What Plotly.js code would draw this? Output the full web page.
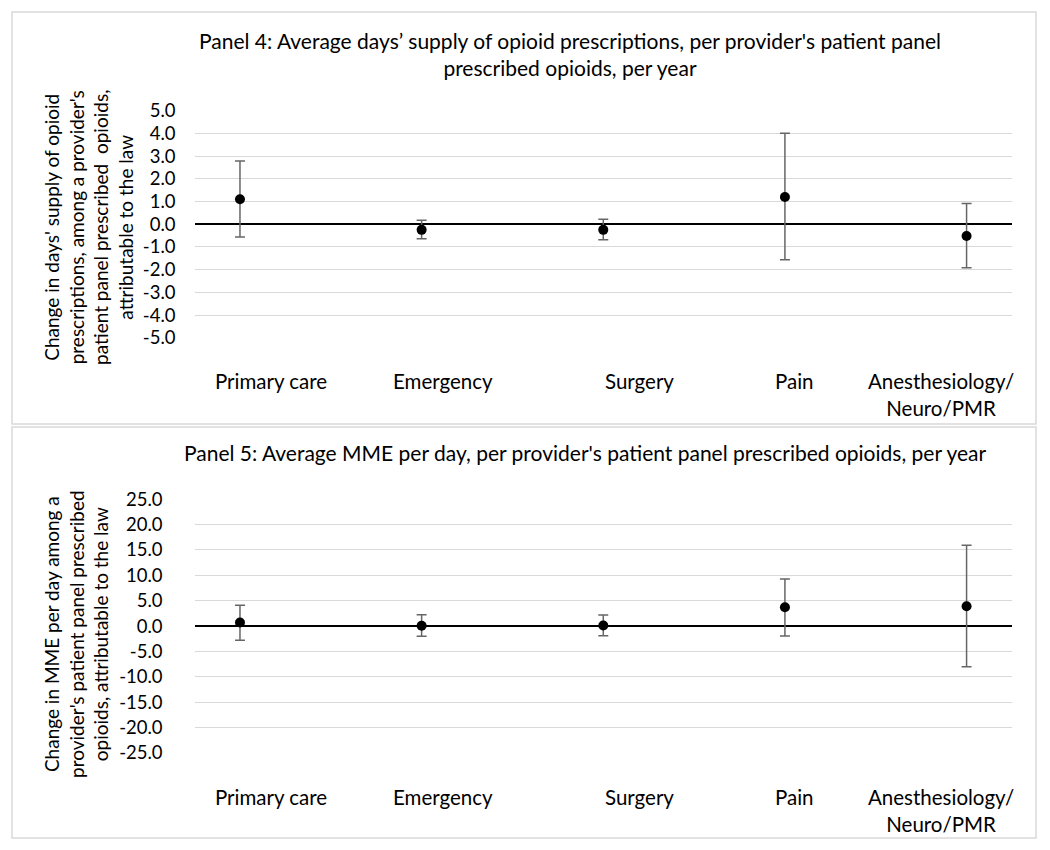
<!DOCTYPE html>
<html>
<head>
<meta charset="utf-8">
<script src="https://cdn.plot.ly/plotly-3.0.1.min.js"></script>
<style>html,body{margin:0;padding:0;background:#fff;}#chart{width:1050px;height:850px;}</style>
</head>
<body>
<div id="chart"></div>
<script>
// ---- data ----
const categories = ["Primary care", "Emergency", "Surgery", "Pain", "Anesthesiology/<br>Neuro/PMR"];
const catIndex = [1, 2, 3, 4, 5];

// Panel 4: days' supply
const p4Mean  = [1.1, -0.25, -0.25, 1.2, -0.52];
const p4Upper = [2.78, 0.17, 0.22, 4.0, 0.91];
const p4Lower = [-0.56, -0.64, -0.68, -1.56, -1.92];
const p4TickVals = [5, 4, 3, 2, 1, 0, -1, -2, -3, -4, -5];
const p4TickText = ["5.0", "4.0", "3.0", "2.0", "1.0", "0.0", "-1.0", "-2.0", "-3.0", "-4.0", "-5.0"];

// Panel 5: MME per day
const p5Mean  = [0.7, 0.05, 0.1, 3.7, 3.9];
const p5Upper = [4.1, 2.2, 2.15, 9.25, 15.9];
const p5Lower = [-2.8, -2.0, -1.9, -1.95, -8.0];
const p5TickVals = [25, 20, 15, 10, 5, 0, -5, -10, -15, -20, -25];
const p5TickText = ["25.0", "20.0", "15.0", "10.0", "5.0", "0.0", "-5.0", "-10.0", "-15.0", "-20.0", "-25.0"];

const title4 = "Panel 4: Average days’ supply of opioid prescriptions, per provider's patient panel<br>prescribed opioids, per year";
const title5 = "Panel 5: Average MME per day, per provider's patient panel prescribed opioids, per year";
const ytitle4 = "Change in days' supply of opioid<br>prescriptions, among a provider's<br>patient panel prescribed  opioids,<br>attributable to the law";
const ytitle5 = "Change in MME per day among a<br>provider's patient panel prescribed<br>opioids, attributable to the law";

// ---- layout constants (positions) ----
const labelPos = [1.17, 2.12, 3.20, 4.05, 4.86];
const FONT = "Lato, 'Open Sans', sans-serif";

function errTrace(mean, upper, lower, xa, ya) {
  return {
    type: "scatter", mode: "markers", x: catIndex, y: mean, xaxis: xa, yaxis: ya,
    marker: {color: "#000", size: 10},
    error_y: {type: "data", symmetric: false,
      array: upper.map((u, i) => u - mean[i]),
      arrayminus: lower.map((l, i) => mean[i] - l),
      color: "#666666", thickness: 1.5, width: 5},
    hoverinfo: "skip", showlegend: false, cliponaxis: false
  };
}

const data = [errTrace(p4Mean, p4Upper, p4Lower, "x", "y"), errTrace(p5Mean, p5Upper, p5Lower, "x2", "y2")];

const xCommon = {range: [0.75, 5.25], showgrid: false, zeroline: false, showline: false,
  showticklabels: false, ticks: "", domain: [0.1853, 0.9638], fixedrange: true};

function yAxis(dom, vals, text, rng, standoff) {
  return {domain: dom, range: rng, tickvals: vals, ticktext: text, showgrid: true,
    gridcolor: "#d9d9d9", gridwidth: 1, zeroline: true, zerolinecolor: "#000", zerolinewidth: 1.5,
    showline: false, ticks: "", ticklabelstandoff: standoff,
    tickfont: {family: FONT, size: 18.5, color: "#000"}, fixedrange: true};
}

const annotations = [];
function addLabels(xref, ypx) {
  categories.forEach((c, i) => {
    annotations.push({xref: xref, yref: "paper", x: labelPos[i], y: 1 - ypx / 850, yanchor: "top",
      xanchor: "center", text: c, showarrow: false, align: "center",
      font: {family: FONT, size: 20.5, color: "#000"}});
  });
}
addLabels("x", 367);
addLabels("x2", 783);

annotations.push({xref: "paper", yref: "paper", x: 570 / 1050, y: 1 - 26 / 850, yanchor: "top", xanchor: "center",
  text: title4, showarrow: false, align: "center", font: {family: FONT, size: 21, color: "#000"}});
annotations.push({xref: "paper", yref: "paper", x: 585 / 1050, y: 1 - 438 / 850, yanchor: "top", xanchor: "center",
  text: title5, showarrow: false, align: "center", font: {family: FONT, size: 21, color: "#000"}});
annotations.push({xref: "paper", yref: "paper", x: 88 / 1050, y: 1 - 228 / 850, xanchor: "center", yanchor: "middle",
  text: ytitle4, textangle: -90, showarrow: false, align: "center", font: {family: FONT, size: 19, color: "#000"}});
annotations.push({xref: "paper", yref: "paper", x: 76 / 1050, y: 1 - 634 / 850, xanchor: "center", yanchor: "middle",
  text: ytitle5, textangle: -90, showarrow: false, align: "center", font: {family: FONT, size: 19, color: "#000"}});

const shapes = [
  {type: "rect", xref: "paper", yref: "paper", x0: 12 / 1050, x1: 1036 / 1050, y0: 1 - 424 / 850, y1: 1 - 12 / 850,
    line: {color: "#d9d9d9", width: 1.5}, fillcolor: "rgba(0,0,0,0)", layer: "below"},
  {type: "rect", xref: "paper", yref: "paper", x0: 12 / 1050, x1: 1036 / 1050, y0: 1 - 838 / 850, y1: 1 - 427 / 850,
    line: {color: "#d9d9d9", width: 1.5}, fillcolor: "rgba(0,0,0,0)", layer: "below"}
];

const layout = {
  width: 1050, height: 850, margin: {l: 0, r: 0, t: 0, b: 0},
  paper_bgcolor: "#fff", plot_bgcolor: "#fff", showlegend: false,
  font: {family: FONT, color: "#000"},
  xaxis: Object.assign({}, xCommon, {anchor: "y"}),
  xaxis2: Object.assign({}, xCommon, {anchor: "y2"}),
  yaxis: Object.assign(yAxis([0.6026, 0.8699], p4TickVals, p4TickText, [-5, 5], 18), {anchor: "x"}),
  yaxis2: Object.assign(yAxis([0.1141, 0.4129], p5TickVals, p5TickText, [-25, 25], 31), {anchor: "x2"}),
  annotations: annotations, shapes: shapes
};

Plotly.newPlot("chart", data, layout, {staticPlot: true});
</script>
</body>
</html>
